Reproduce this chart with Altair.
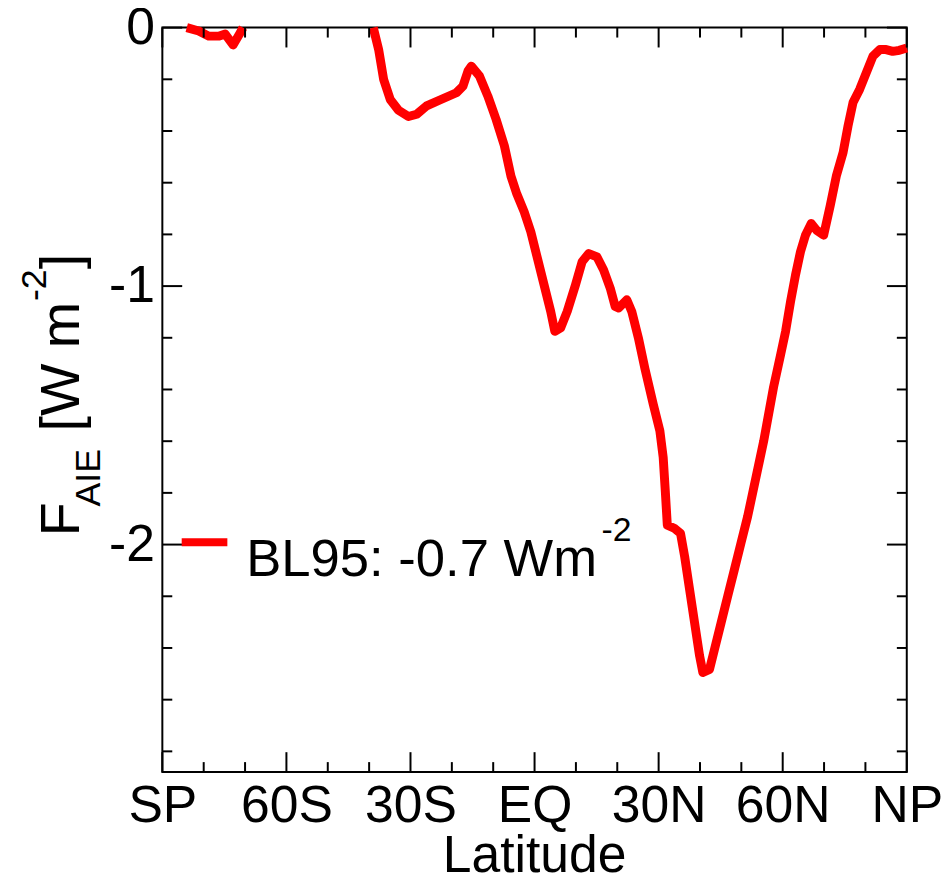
import altair as alt
import pandas as pd

# ---- data ----
lat_seg1 = [-84.1, -81.2, -78.8, -76.4, -74.8, -72.9, -71.2, -70.5]
val_seg1 = [0.0, -0.013, -0.033, -0.033, -0.025, -0.067, -0.021, 0.0]

lat_seg2 = [-39.0, -37.7, -36.5, -34.9, -32.9, -30.5, -28.5, -26.1, -22.9, -18.9,
            -17.3, -16.1, -15.3, -13.3, -11.3, -9.3, -7.3, -5.7, -4.3, -2.5,
            -0.9, 0.7, 2.3, 3.9, 4.9, 6.3, 7.9, 9.9, 11.5, 13.1,
            15.1, 16.7, 18.3, 19.5, 20.3, 22.3, 23.5, 25.1, 26.7, 28.7,
            30.3, 31.1, 31.6, 32.1, 33.9, 35.3, 36.3, 37.5, 38.7, 39.9,
            40.7, 42.3, 43.5, 45.1, 46.7, 48.3, 49.9, 51.5, 52.7, 55.4,
            57.8, 59.5, 60.7, 61.9, 63.1, 64.3, 65.5, 66.9, 68.2, 69.9,
            71.5, 73.0, 74.6, 75.8, 77.0, 78.6, 80.2, 81.8, 83.5, 85.0,
            86.6, 88.2, 90.0]
val_seg2 = [0.0, -0.085, -0.20, -0.278, -0.32, -0.344, -0.335, -0.303, -0.28, -0.252,
            -0.226, -0.168, -0.149, -0.188, -0.265, -0.355, -0.457, -0.575, -0.643, -0.713,
            -0.79, -0.893, -0.995, -1.098, -1.175, -1.162, -1.098, -0.995, -0.906, -0.874,
            -0.887, -0.938, -1.008, -1.079, -1.085, -1.053, -1.098, -1.2, -1.32, -1.457,
            -1.56, -1.662, -1.79, -1.925, -1.938, -1.957, -2.047, -2.175, -2.303, -2.43,
            -2.495, -2.483, -2.406, -2.303, -2.2, -2.098, -1.995, -1.893, -1.803, -1.60,
            -1.39, -1.265, -1.175, -1.06, -0.957, -0.867, -0.803, -0.758, -0.784, -0.803,
            -0.688, -0.572, -0.483, -0.38, -0.29, -0.239, -0.175, -0.111, -0.085, -0.085,
            -0.092, -0.088, -0.079]

x_major = [-90, -60, -30, 0, 30, 60, 90]
x_labels = ["SP", "60S", "30S", "EQ", "30N", "60N", "NP"]
x_minor = [-80, -70, -50, -40, -20, -10, 10, 20, 40, 50, 70, 80]
y_major = [0, -1, -2]
y_labels = ["0", "-1", "-2"]
y_minor = [-0.2, -0.4, -0.6, -0.8, -1.2, -1.4, -1.6, -1.8, -2.2, -2.4, -2.6, -2.8]

legend_text = "BL95: -0.7 Wm"
legend_sup = "-2"

# ---- layout ----
W, H = 750, 750
FONT = "Liberation Sans"
RED = "#ff0000"
XDOM = [-90, 90]
YDOM = [-2.88, 0]

curve = pd.DataFrame({
    "lat": lat_seg1 + lat_seg2,
    "val": val_seg1 + val_seg2,
    "seg": ["a"] * len(lat_seg1) + ["b"] * len(lat_seg2),
})

xscale = alt.Scale(domain=XDOM, nice=False, zero=False)
yscale = alt.Scale(domain=YDOM, nice=False, zero=False)

xlabel_expr = " : ".join(
    f"datum.value == {v} ? '{l}'" for v, l in zip(x_major, x_labels)
) + " : ''"
ylabel_expr = " : ".join(
    f"datum.value == {v} ? '{l}'" for v, l in zip(y_major, y_labels)
) + " : ''"

xaxis = alt.Axis(values=x_major, labelExpr=xlabel_expr, ticks=False,
                 tickSize=0, domain=False, grid=False, title=None,
                 labelFontSize=52, labelFont=FONT, labelColor="black",
                 labelPadding=9, labelFlush=False, labelOverlap=False)
yaxis = alt.Axis(values=y_major, labelExpr=ylabel_expr, ticks=False,
                 tickSize=0, domain=False, grid=False, title=None,
                 labelFontSize=52, labelFont=FONT, labelColor="black",
                 labelPadding=8, labelFlush=False, labelOverlap=False)

line = alt.Chart(curve).mark_line(
    color=RED, strokeWidth=9, strokeJoin="round", strokeCap="butt"
).encode(
    x=alt.X("lat:Q", scale=xscale, axis=xaxis),
    y=alt.Y("val:Q", scale=yscale, axis=yaxis),
    detail="seg:N",
)

def xticks(vals, length):
    df = pd.DataFrame({"lat": vals})
    bottom = alt.Chart(df).mark_rule(color="black", strokeWidth=2).encode(
        x=alt.X("lat:Q", scale=xscale, axis=xaxis),
        y=alt.value(H), y2=alt.value(H - length))
    top = alt.Chart(df).mark_rule(color="black", strokeWidth=2).encode(
        x=alt.X("lat:Q", scale=xscale, axis=xaxis),
        y=alt.value(0), y2=alt.value(length))
    return [bottom, top]

def yticks(vals, length):
    df = pd.DataFrame({"val": vals})
    left = alt.Chart(df).mark_rule(color="black", strokeWidth=2).encode(
        y=alt.Y("val:Q", scale=yscale, axis=yaxis),
        x=alt.value(0), x2=alt.value(length))
    right = alt.Chart(df).mark_rule(color="black", strokeWidth=2).encode(
        y=alt.Y("val:Q", scale=yscale, axis=yaxis),
        x=alt.value(W), x2=alt.value(W - length))
    return [left, right]

one = pd.DataFrame({"k": [0]})

def txt(s, x, y, size, angle=0, align="left", baseline="alphabetic"):
    kw = dict(fontSize=size, font=FONT, color="black", align=align, baseline=baseline)
    if angle:
        kw["angle"] = angle
    return alt.Chart(one).mark_text(**kw).encode(
        x=alt.value(x), y=alt.value(y), text=alt.value(s))

titles = [
    txt("Latitude", W / 2, 851, 52, align="center"),
    txt("F", -83.5, 512.5, 56, angle=270),
    txt("AIE", -62.5, 482.5, 36, angle=270),
    txt("[W m", -83.5, 406.9, 56, angle=270),
    txt("-2", -117.5, 275.5, 36, angle=270),
    txt("]", -83.5, 243.5, 56, angle=270),
]

legend_line = alt.Chart(one).mark_rule(color=RED, strokeWidth=8).encode(
    x=alt.value(19.5), x2=alt.value(65.5), y=alt.value(518.5))
legend = [
    legend_line,
    txt(legend_text, 84.5, 552.5, 53),
    txt(legend_sup, 442.5, 517.5, 34),
]

layers = ([line] + xticks(x_major, 20) + xticks(x_minor, 10)
          + yticks(y_major, 20) + yticks(y_minor, 10) + titles + legend)

chart = alt.layer(*layers).properties(
    width=W, height=H,
    background="white",
    autosize=alt.AutoSizeParams(type="none"),
    padding={"left": 155.5, "top": 16.5, "right": 36.5, "bottom": 104},
).configure_view(
    stroke="black", strokeWidth=2
)

chart.save("out.html", embed_options={"renderer": "svg", "actions": False})
